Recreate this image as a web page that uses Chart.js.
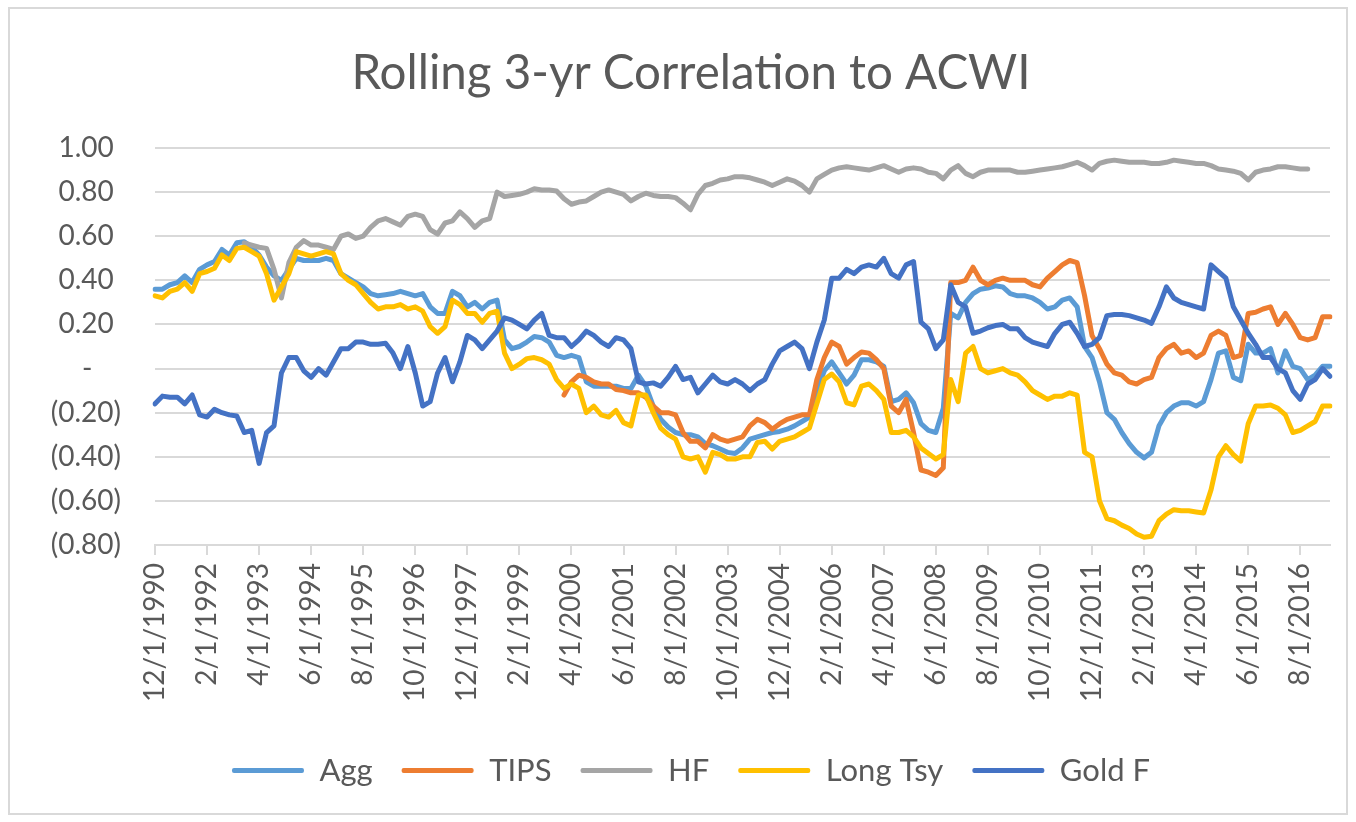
<!DOCTYPE html>
<html>
<head>
<meta charset="utf-8">
<script src="https://cdn.jsdelivr.net/npm/chart.js@4.4.1/dist/chart.umd.min.js"></script>
<style>
html,body{margin:0;padding:0;background:#ffffff;overflow:hidden;}
#wrap{position:absolute;left:0;top:0;width:1356px;height:822px;overflow:hidden;}
#c{position:absolute;left:0;top:0;}
</style>
</head>
<body>
<div id="wrap"><canvas id="c" width="1382" height="822"></canvas></div>
<script>
// Tick labels shown on the category axis (every 14 months)
const tickLabels = ["12/1/1990","2/1/1992","4/1/1993","6/1/1994","8/1/1995","10/1/1996","12/1/1997",
  "2/1/1999","4/1/2000","6/1/2001","8/1/2002","10/1/2003","12/1/2004","2/1/2006","4/1/2007",
  "6/1/2008","8/1/2009","10/1/2010","12/1/2011","2/1/2013","4/1/2014","6/1/2015","8/1/2016"];

// Categories: one every 2 months from 12/1990 to 4/2017
const categories = [];
for (let k = 0; k < 159; k++) {
  const t = 11 + 2 * k;
  categories.push((t % 12 + 1) + "/1/" + (1990 + Math.floor(t / 12)));
}

const agg = [
  0.36, 0.36, 0.38, 0.39, 0.42, 0.39, 0.45, 0.47, 0.485, 0.54,
  0.515, 0.57, 0.575, 0.55, 0.515, 0.46, 0.42, 0.40, 0.45, 0.50,
  0.49, 0.49, 0.49, 0.50, 0.49, 0.43, 0.41, 0.39, 0.37, 0.34,
  0.33, 0.335, 0.34, 0.35, 0.34, 0.33, 0.34, 0.28, 0.25, 0.25,
  0.35, 0.33, 0.28, 0.30, 0.27, 0.30, 0.31, 0.13, 0.09, 0.10,
  0.12, 0.145, 0.14, 0.12, 0.06, 0.05, 0.06, 0.05, -0.06, -0.08,
  -0.08, -0.08, -0.08, -0.09, -0.09, -0.03, -0.08, -0.17, -0.23, -0.265,
  -0.29, -0.30, -0.30, -0.31, -0.34, -0.35, -0.365, -0.38, -0.385, -0.36,
  -0.32, -0.31, -0.30, -0.29, -0.285, -0.275, -0.26, -0.24, -0.22, -0.10,
  -0.01, 0.03, -0.02, -0.07, -0.03, 0.04, 0.04, 0.03, 0.01, -0.15,
  -0.14, -0.11, -0.155, -0.25, -0.28, -0.29, -0.18, 0.25, 0.23, 0.30,
  0.34, 0.36, 0.365, 0.375, 0.37, 0.34, 0.33, 0.33, 0.32, 0.30,
  0.27, 0.28, 0.31, 0.32, 0.28, 0.10, 0.05, -0.06, -0.20, -0.23,
  -0.29, -0.34, -0.38, -0.405, -0.38, -0.26, -0.20, -0.17, -0.155, -0.155,
  -0.17, -0.15, -0.05, 0.07, 0.08, -0.04, -0.055, 0.11, 0.07, 0.07,
  0.09, -0.02, 0.08, 0.01, 0.00, -0.05, -0.03, 0.01, 0.01
];

const tips = Array(55).fill(null).concat([
  -0.12, -0.06, -0.03, -0.04, -0.06, -0.07, -0.07, -0.095, -0.10, -0.11,
  -0.11, -0.13, -0.17, -0.20, -0.20, -0.21, -0.29, -0.33, -0.33, -0.36,
  -0.30, -0.32, -0.33, -0.32, -0.31, -0.26, -0.23, -0.245, -0.275, -0.25,
  -0.23, -0.22, -0.21, -0.21, -0.05, 0.05, 0.12, 0.10, 0.02, 0.05,
  0.075, 0.07, 0.04, 0.00, -0.17, -0.20, -0.14, -0.29, -0.46, -0.47,
  -0.485, -0.45, 0.39, 0.39, 0.40, 0.46, 0.40, 0.38, 0.40, 0.41,
  0.40, 0.40, 0.40, 0.38, 0.37, 0.41, 0.44, 0.47, 0.49, 0.48,
  0.33, 0.15, 0.09, 0.02, -0.02, -0.03, -0.06, -0.07, -0.05, -0.04,
  0.05, 0.09, 0.11, 0.07, 0.08, 0.05, 0.07, 0.15, 0.17, 0.15,
  0.05, 0.06, 0.25, 0.255, 0.27, 0.28, 0.20, 0.25, 0.20, 0.14,
  0.13, 0.14, 0.235, 0.235
]);

const hf = Array(12).fill(null).concat([
  0.57, 0.56, 0.55, 0.545, 0.45, 0.32, 0.48, 0.55, 0.58, 0.56,
  0.56, 0.55, 0.54, 0.60, 0.61, 0.59, 0.60, 0.64, 0.67, 0.68,
  0.665, 0.65, 0.69, 0.70, 0.69, 0.63, 0.61, 0.66, 0.67, 0.71,
  0.68, 0.64, 0.67, 0.68, 0.80, 0.78, 0.785, 0.79, 0.80, 0.815,
  0.81, 0.81, 0.805, 0.77, 0.745, 0.755, 0.76, 0.78, 0.80, 0.81,
  0.80, 0.79, 0.76, 0.78, 0.795, 0.785, 0.78, 0.78, 0.775, 0.75,
  0.72, 0.79, 0.83, 0.84, 0.855, 0.86, 0.87, 0.87, 0.865, 0.855,
  0.845, 0.83, 0.845, 0.86, 0.85, 0.83, 0.80, 0.86, 0.88, 0.90,
  0.91, 0.915, 0.91, 0.905, 0.90, 0.91, 0.92, 0.905, 0.89, 0.905,
  0.91, 0.905, 0.89, 0.885, 0.86, 0.90, 0.92, 0.885, 0.87, 0.89,
  0.90, 0.90, 0.90, 0.90, 0.89, 0.89, 0.895, 0.90, 0.905, 0.91,
  0.915, 0.925, 0.935, 0.92, 0.90, 0.93, 0.94, 0.945, 0.94, 0.935,
  0.935, 0.935, 0.93, 0.93, 0.935, 0.945, 0.94, 0.935, 0.93, 0.93,
  0.92, 0.905, 0.90, 0.895, 0.885, 0.855, 0.89, 0.90, 0.905, 0.915,
  0.915, 0.91, 0.905, 0.905
]).concat([null, null, null]);

const longTsy = [
  0.33, 0.32, 0.35, 0.36, 0.39, 0.35, 0.43, 0.44, 0.455, 0.515,
  0.49, 0.545, 0.55, 0.53, 0.51, 0.43, 0.31, 0.37, 0.43, 0.53,
  0.52, 0.51, 0.52, 0.53, 0.52, 0.43, 0.40, 0.38, 0.34, 0.30,
  0.27, 0.28, 0.28, 0.29, 0.27, 0.28, 0.26, 0.19, 0.16, 0.19,
  0.31, 0.29, 0.25, 0.25, 0.21, 0.25, 0.26, 0.07, 0.00, 0.02,
  0.045, 0.05, 0.04, 0.02, -0.05, -0.09, -0.07, -0.09, -0.20, -0.17,
  -0.21, -0.22, -0.19, -0.245, -0.26, -0.12, -0.12, -0.20, -0.27, -0.30,
  -0.32, -0.40, -0.41, -0.40, -0.47, -0.38, -0.39, -0.41, -0.41, -0.40,
  -0.40, -0.335, -0.33, -0.365, -0.33, -0.32, -0.31, -0.29, -0.27, -0.16,
  -0.05, -0.025, -0.06, -0.155, -0.165, -0.08, -0.07, -0.10, -0.14, -0.29,
  -0.29, -0.28, -0.31, -0.36, -0.385, -0.41, -0.39, -0.05, -0.15, 0.07,
  0.10, 0.00, -0.02, -0.01, 0.00, -0.02, -0.03, -0.06, -0.10, -0.12,
  -0.14, -0.125, -0.125, -0.11, -0.12, -0.38, -0.40, -0.60, -0.68, -0.69,
  -0.71, -0.725, -0.75, -0.765, -0.76, -0.69, -0.66, -0.64, -0.645, -0.645,
  -0.65, -0.655, -0.55, -0.40, -0.35, -0.39, -0.42, -0.25, -0.17, -0.17,
  -0.165, -0.18, -0.21, -0.29, -0.28, -0.26, -0.24, -0.17, -0.17
];

const goldF = [
  -0.16, -0.125, -0.13, -0.13, -0.16, -0.12, -0.21, -0.22, -0.185, -0.20,
  -0.21, -0.215, -0.29, -0.28, -0.43, -0.29, -0.26, -0.02, 0.05, 0.05,
  -0.01, -0.04, 0.00, -0.03, 0.03, 0.09, 0.09, 0.12, 0.12, 0.11,
  0.11, 0.115, 0.07, 0.00, 0.10, -0.02, -0.17, -0.15, -0.02, 0.05,
  -0.06, 0.03, 0.15, 0.13, 0.09, 0.13, 0.17, 0.23, 0.22, 0.20,
  0.18, 0.22, 0.25, 0.15, 0.14, 0.14, 0.10, 0.13, 0.17, 0.15,
  0.12, 0.10, 0.14, 0.13, 0.09, -0.06, -0.07, -0.065, -0.08, -0.04,
  0.01, -0.05, -0.04, -0.11, -0.07, -0.03, -0.06, -0.07, -0.05, -0.07,
  -0.10, -0.07, -0.05, 0.02, 0.08, 0.10, 0.12, 0.09, 0.00, 0.12,
  0.22, 0.41, 0.41, 0.45, 0.43, 0.46, 0.47, 0.46, 0.50, 0.43,
  0.41, 0.47, 0.485, 0.21, 0.18, 0.09, 0.13, 0.38, 0.30, 0.28,
  0.16, 0.17, 0.185, 0.195, 0.20, 0.18, 0.18, 0.14, 0.12, 0.11,
  0.10, 0.16, 0.20, 0.21, 0.16, 0.10, 0.11, 0.14, 0.24, 0.245,
  0.245, 0.24, 0.23, 0.22, 0.205, 0.28, 0.37, 0.32, 0.30, 0.29,
  0.28, 0.27, 0.47, 0.44, 0.41, 0.28, 0.22, 0.16, 0.11, 0.05,
  0.05, 0.00, -0.02, -0.10, -0.14, -0.07, -0.05, 0.00, -0.035
];

const FONT = 'Lato, "Open Sans", "DejaVu Sans", sans-serif';
const TEXT = '#595959';
const GRID = '#d9d9d9';

function yFmt(v) {
  const r = Math.round(v * 100) / 100;
  if (Math.abs(r) < 1e-9) return '-    ';
  if (r < 0) return '(' + Math.abs(r).toFixed(2) + ')';
  return r.toFixed(2) + ' ';
}

const frame = {
  id: 'frame',
  afterDraw(chart) {
    const ctx = chart.ctx;
    ctx.save();
    ctx.strokeStyle = GRID;
    ctx.lineWidth = 2;
    ctx.strokeRect(9, 8, 1338, 806);
    ctx.restore();
  }
};

const baseGen = Chart.defaults.plugins.legend.labels.generateLabels;

new Chart(document.getElementById('c'), {
  type: 'line',
  data: {
    labels: categories,
    datasets: [
      { label: 'Agg', data: agg, borderColor: '#5B9BD5', backgroundColor: '#5B9BD5', order: 5 },
      { label: 'TIPS', data: tips, borderColor: '#ED7D31', backgroundColor: '#ED7D31', order: 4 },
      { label: 'HF', data: hf, borderColor: '#A5A5A5', backgroundColor: '#A5A5A5', order: 3 },
      { label: 'Long Tsy', data: longTsy, borderColor: '#FFC000', backgroundColor: '#FFC000', order: 2 },
      { label: 'Gold F', data: goldF, borderColor: '#4472C4', backgroundColor: '#4472C4', order: 1 }
    ]
  },
  options: {
    responsive: false,
    animation: false,
    devicePixelRatio: 1,
    layout: { padding: { left: 0, right: 0, top: 0, bottom: 26 } },
    elements: {
      line: { borderWidth: 5, tension: 0, borderJoinStyle: 'round', borderCapStyle: 'round', fill: false },
      point: { radius: 0, hoverRadius: 0, hitRadius: 0 }
    },
    plugins: {
      title: {
        display: true,
        text: 'Rolling 3-yr Correlation to ACWI',
        color: TEXT,
        font: { family: FONT, size: 47.5, weight: 'normal' },
        padding: { top: 45, bottom: 46 }
      },
      legend: {
        position: 'bottom',
        labels: {
          color: TEXT,
          font: { family: FONT, size: 31 },
          boxWidth: 72,
          boxHeight: 5,
          padding: 29,
          sort: (a, b) => a.datasetIndex - b.datasetIndex,
          generateLabels: (chart) => baseGen(chart).map(l => Object.assign(l, {
            lineWidth: 0, fillStyle: l.strokeStyle, borderRadius: 2
          }))
        }
      },
      tooltip: { enabled: false }
    },
    scales: {
      x: {
        grid: {
          drawOnChartArea: false,
          drawTicks: true,
          tickLength: 10,
          lineWidth: 2,
          color: (ctx) => (ctx.index % 7 === 0 ? GRID : 'rgba(0,0,0,0)')
        },
        border: { display: true, color: GRID, width: 2 },
        ticks: {
          autoSkip: false,
          maxRotation: 90,
          minRotation: 90,
          padding: 8,
          color: TEXT,
          font: { family: FONT, size: 28 },
          callback: (v, i) => (i % 7 === 0 ? tickLabels[i / 7] : '')
        },
        afterFit: (s) => { s.height = 181; }
      },
      y: {
        min: -0.8,
        max: 1.0,
        ticks: {
          stepSize: 0.2,
          padding: 34,
          color: TEXT,
          font: { family: FONT, size: 28 },
          callback: yFmt
        },
        grid: { color: GRID, lineWidth: 2, drawTicks: false },
        border: { display: false },
        afterFit: (s) => { s.width = 155; }
      },
      spacer: {
        position: 'right',
        min: 0,
        max: 1,
        grid: { display: false, drawTicks: false },
        border: { display: false },
        ticks: { display: false },
        afterFit: (s) => { s.width = 52; }
      }
    }
  },
  plugins: [frame]
});
</script>
</body>
</html>
